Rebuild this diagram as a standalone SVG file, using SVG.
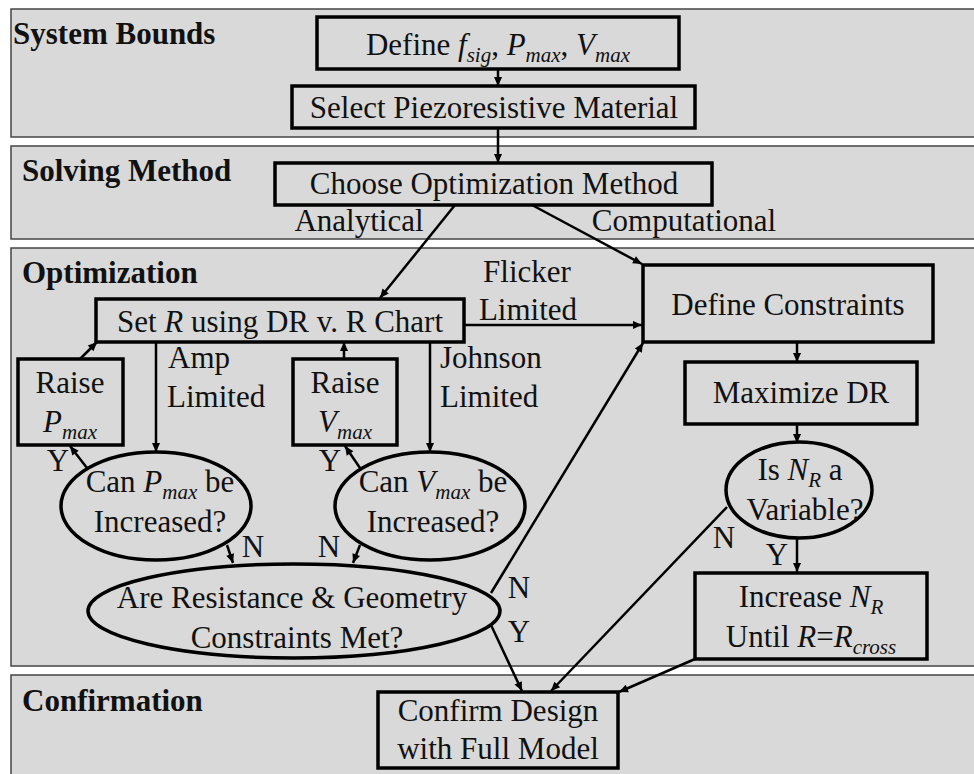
<svg xmlns="http://www.w3.org/2000/svg" width="974" height="774" viewBox="0 0 974 774">
<defs>
<marker id="ah" viewBox="0 0 10 10" refX="10" refY="5" markerWidth="10" markerHeight="9" markerUnits="userSpaceOnUse" orient="auto">
<path d="M0,0.5 L10,5 L0,9.5 z" fill="#000"/>
</marker>
<style>
.panel{fill:#d9d9d9;stroke:#444;stroke-width:1.5}
.title{font-family:"Liberation Serif","Times New Roman",serif;font-size:31px;font-weight:bold;fill:#111}
.t{font-family:"Liberation Serif","Times New Roman",serif;font-size:31px;fill:#111}
.c{text-anchor:middle}
.i{font-style:italic}
.s{font-style:italic;font-size:21px}
.box{fill:none;stroke:#000;stroke-width:3.5}
.ell{fill:none;stroke:#000;stroke-width:3.5}
.cn{fill:none;stroke:#000;stroke-width:2.5;marker-end:url(#ah)}
.ln{fill:none;stroke:#000;stroke-width:2.5}
</style>
</defs>
<rect width="974" height="774" fill="#fff"/>

<g id="panels">
<rect class="panel" x="11" y="9" width="975" height="128"/>
<rect class="panel" x="11" y="146" width="975" height="93"/>
<rect class="panel" x="11" y="248" width="975" height="418"/>
<rect class="panel" x="11" y="675" width="975" height="110"/>
<text class="title" x="13" y="44">System Bounds</text>
<text class="title" x="22" y="181">Solving Method</text>
<text class="title" x="22" y="283">Optimization</text>
<text class="title" x="22" y="711">Confirmation</text>
</g>

<g id="connectors">
<line class="cn" x1="498" y1="69" x2="498" y2="86"/>
<line class="cn" x1="498" y1="128" x2="498" y2="163"/>
<line class="cn" x1="455" y1="205" x2="380" y2="298"/>
<line class="cn" x1="532" y1="205" x2="642" y2="264"/>
<line class="cn" x1="464" y1="325" x2="642" y2="325"/>
<line class="cn" x1="156" y1="342" x2="156" y2="452"/>
<line class="cn" x1="430" y1="342" x2="430" y2="452"/>
<line class="cn" x1="80" y1="359" x2="97" y2="342"/>
<line class="cn" x1="344" y1="359" x2="344" y2="342"/>
<line class="cn" x1="87" y1="468" x2="70" y2="446"/>
<line class="cn" x1="360" y1="468" x2="345" y2="446"/>
<line class="cn" x1="227" y1="545" x2="233" y2="563"/>
<line class="cn" x1="360" y1="545" x2="353" y2="563"/>
<line class="cn" x1="491" y1="593" x2="643" y2="343"/>
<line class="cn" x1="491" y1="625" x2="522" y2="691"/>
<line class="cn" x1="797" y1="342" x2="797" y2="362"/>
<line class="cn" x1="797" y1="424" x2="797" y2="443"/>
<line class="cn" x1="797" y1="538" x2="797" y2="572"/>
<line class="cn" x1="727" y1="507" x2="551" y2="691"/>
<line class="cn" x1="695" y1="659" x2="619" y2="692"/>
<text class="t c" x="359" y="231">Analytical</text>
<text class="t c" x="684" y="231">Computational</text>
<text class="t c" x="527" y="282">Flicker</text>
<text class="t c" x="528" y="320">Limited</text>
<text class="t" x="168" y="368">Amp</text>
<text class="t" x="167" y="407">Limited</text>
<text class="t" x="440" y="368">Johnson</text>
<text class="t" x="440" y="407">Limited</text>
<text class="t c" x="58" y="471">Y</text>
<text class="t c" x="330" y="471">Y</text>
<text class="t c" x="253" y="557">N</text>
<text class="t c" x="329" y="557">N</text>
<text class="t c" x="519" y="598">N</text>
<text class="t c" x="519" y="642">Y</text>
<text class="t c" x="724" y="548">N</text>
<text class="t c" x="777" y="565">Y</text>
</g>

<g id="n_define">
<rect class="box" x="317" y="17" width="362" height="52"/>
<text class="t c" x="498" y="55">Define <tspan class="i">f</tspan><tspan class="s" dy="7">sig</tspan><tspan dy="-7">, </tspan><tspan class="i">P</tspan><tspan class="s" dy="7">max</tspan><tspan dy="-7">, </tspan><tspan class="i">V</tspan><tspan class="s" dy="7">max</tspan></text>
</g>

<g id="n_select">
<rect class="box" x="292" y="86" width="403" height="42"/>
<text class="t c" x="494" y="118">Select Piezoresistive Material</text>
</g>

<g id="n_choose">
<rect class="box" x="275" y="163" width="437" height="42"/>
<text class="t c" x="494" y="194">Choose Optimization Method</text>
</g>

<g id="n_setr">
<rect class="box" x="96" y="299" width="368" height="43"/>
<text class="t c" x="280" y="332">Set <tspan class="i">R</tspan> using DR v. R Chart</text>
</g>

<g id="n_defcons">
<rect class="box" x="643" y="265" width="290" height="77"/>
<text class="t c" x="788" y="315">Define Constraints</text>
</g>

<g id="n_maxdr">
<rect class="box" x="685" y="362" width="232" height="62"/>
<text class="t c" x="801" y="403">Maximize DR</text>
</g>

<g id="n_raisep">
<rect class="box" x="18" y="359" width="105" height="86"/>
<text class="t c" x="70" y="393">Raise</text>
<text class="t c" x="70" y="432"><tspan class="i">P</tspan><tspan class="s" dy="7">max</tspan></text>
</g>

<g id="n_raisev">
<rect class="box" x="293" y="359" width="104" height="86"/>
<text class="t c" x="345" y="393">Raise</text>
<text class="t c" x="345" y="432"><tspan class="i">V</tspan><tspan class="s" dy="7">max</tspan></text>
</g>

<g id="n_canp">
<ellipse class="ell" cx="156" cy="506" rx="95" ry="54"/>
<text class="t c" x="160" y="492">Can <tspan class="i">P</tspan><tspan class="s" dy="7">max</tspan><tspan dy="-7"> be</tspan></text>
<text class="t c" x="160" y="532">Increased?</text>
</g>

<g id="n_canv">
<ellipse class="ell" cx="430" cy="506" rx="95" ry="54"/>
<text class="t c" x="433" y="492">Can <tspan class="i">V</tspan><tspan class="s" dy="7">max</tspan><tspan dy="-7"> be</tspan></text>
<text class="t c" x="433" y="532">Increased?</text>
</g>

<g id="n_are">
<ellipse class="ell" cx="294" cy="611" rx="206" ry="47"/>
<text class="t c" x="292" y="608">Are Resistance &amp; Geometry</text>
<text class="t c" x="297" y="648">Constraints Met?</text>
</g>

<g id="n_isnr">
<ellipse class="ell" cx="799" cy="490" rx="73" ry="48"/>
<text class="t c" x="800" y="480">Is <tspan class="i">N</tspan><tspan class="s" dy="7">R</tspan><tspan dy="-7"> a</tspan></text>
<text class="t c" x="805" y="520">Variable?</text>
</g>

<g id="n_increase">
<rect class="box" x="695" y="573" width="232" height="86"/>
<text class="t c" x="811" y="607">Increase <tspan class="i">N</tspan><tspan class="s" dy="7">R</tspan></text>
<text class="t c" x="811" y="647">Until <tspan class="i">R</tspan>=<tspan class="i">R</tspan><tspan class="s" dy="7">cross</tspan></text>
</g>

<g id="n_confirm">
<rect class="box" x="378" y="692" width="240" height="76"/>
<text class="t c" x="498" y="721">Confirm Design</text>
<text class="t c" x="498" y="759">with Full Model</text>
</g>
</svg>
